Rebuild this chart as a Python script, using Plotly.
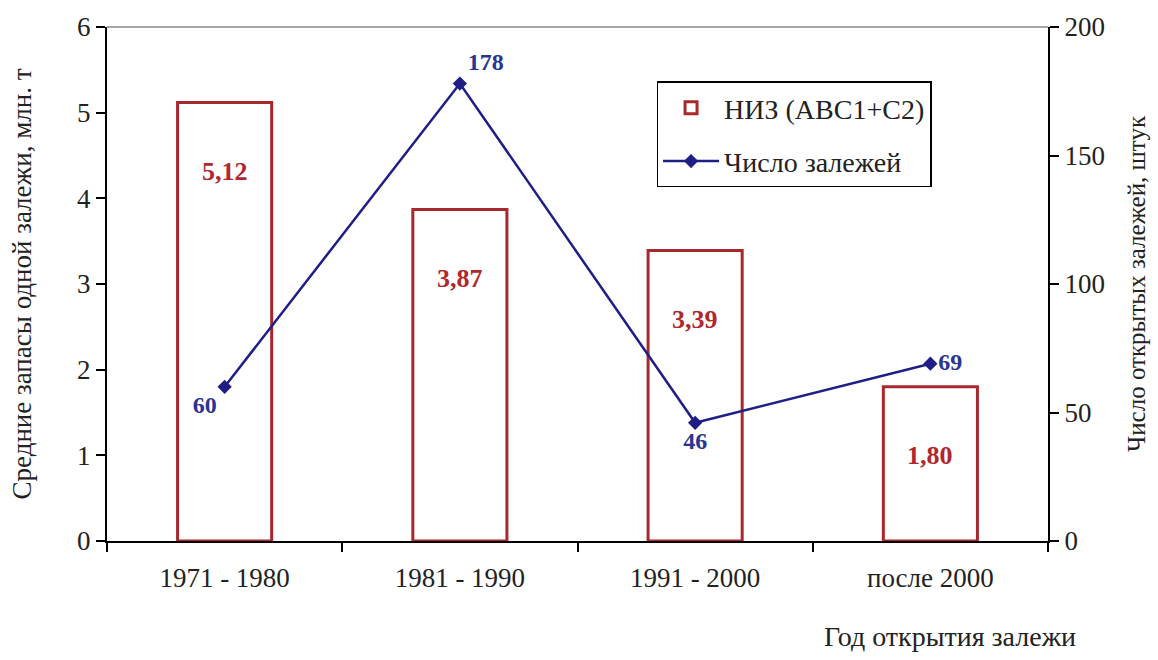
import plotly.graph_objects as go

# Data
periods = ["1971 - 1980", "1981 - 1990", "1991 - 2000", "после 2000"]
reserves = [5.12, 3.87, 3.39, 1.80]          # средние НИЗ одной залежи, млн. т
deposit_counts = [60, 178, 46, 69]            # число открытых залежей, штук
count_label_pos = ["bottom left", "top right", "bottom center", "middle right"]

FONT = "Liberation Serif"
BAR_RED = "#A8282D"
TEXT_RED = "#B0282E"
NAVY = "#1E1E86"
TEXT_NAVY = "#2A3590"
INK = "#222222"

fig = go.Figure()

fig.add_trace(go.Bar(
    x=periods, y=reserves, name="НИЗ (АВС1+С2)", legendgroup="bars",
    marker=dict(color="rgba(255,255,255,0)", line=dict(color=BAR_RED, width=3)),
    yaxis="y",
))

fig.add_trace(go.Scatter(
    x=periods, y=deposit_counts, name="Число залежей", legendgroup="line",
    mode="lines+markers+text",
    line=dict(color=NAVY, width=2.5),
    marker=dict(symbol="diamond", size=11, color=NAVY),
    text=[str(v) for v in deposit_counts],
    texttemplate="<b>%{text}</b>",
    textposition=count_label_pos,
    textfont=dict(family=FONT, size=24, color=TEXT_NAVY),
    yaxis="y2",
))

# value labels inside the bars
for p, v in zip(periods, reserves):
    fig.add_annotation(
        x=p, y=v, xref="x", yref="y", yshift=-69,
        text="<b>" + f"{v:.2f}".replace(".", ",") + "</b>",
        showarrow=False, font=dict(family=FONT, size=26, color=TEXT_RED),
    )

# x axis title at the lower right
fig.add_annotation(
    x=0.896, y=-0.185, xref="paper", yref="paper",
    text="Год открытия залежи", showarrow=False,
    font=dict(family=FONT, size=28, color=INK),
    xanchor="center", yanchor="middle",
)

# thin grey frame line along the top of the plot area
fig.add_shape(type="line", xref="paper", yref="paper", x0=0, x1=1, y0=1, y1=1,
              line=dict(color="#8a8a8a", width=1.5))

axis_common = dict(showgrid=False, zeroline=False, showline=True, linecolor="black",
                   linewidth=2, tickwidth=2, tickcolor="black", ticklen=9)

fig.update_layout(
    width=1158, height=660,
    margin=dict(l=107, r=108, t=24, b=119),
    paper_bgcolor="white", plot_bgcolor="white",
    font=dict(family=FONT, size=26, color=INK),
    bargap=0.6,
    showlegend=True,
    legend=dict(
        x=0.584, y=0.894, xanchor="left", yanchor="top",
        bordercolor="black", borderwidth=1.5, bgcolor="white",
        font=dict(family=FONT, size=28, color=INK),
        itemwidth=56, tracegroupgap=14,
    ),
    xaxis=dict(
        type="category", tickson="boundaries", ticks="outside",
        tickfont=dict(family=FONT, size=27, color=INK), ticklabelstandoff=12,
        **axis_common,
    ),
    yaxis=dict(
        range=[0, 6], dtick=1, ticks="outside",
        tickfont=dict(family=FONT, size=27, color=INK),
        title=dict(text="Средние запасы одной залежи, млн. т",
                   font=dict(family=FONT, size=27, color=INK), standoff=38),
        **axis_common,
    ),
    yaxis2=dict(
        range=[0, 200], dtick=50, overlaying="y", side="right", anchor="x",
        ticks="outside",
        tickfont=dict(family=FONT, size=27, color=INK),
        title=dict(text="Число открытых залежей, штук",
                   font=dict(family=FONT, size=25, color=INK), standoff=24),
        **axis_common,
    ),
    # inner half of the crossing ticks on the right-hand axis
    yaxis3=dict(
        range=[0, 200], dtick=50, overlaying="y", side="right", anchor="x",
        ticks="inside", showticklabels=False,
        **axis_common,
    ),
)

fig.write_html("out.html")
